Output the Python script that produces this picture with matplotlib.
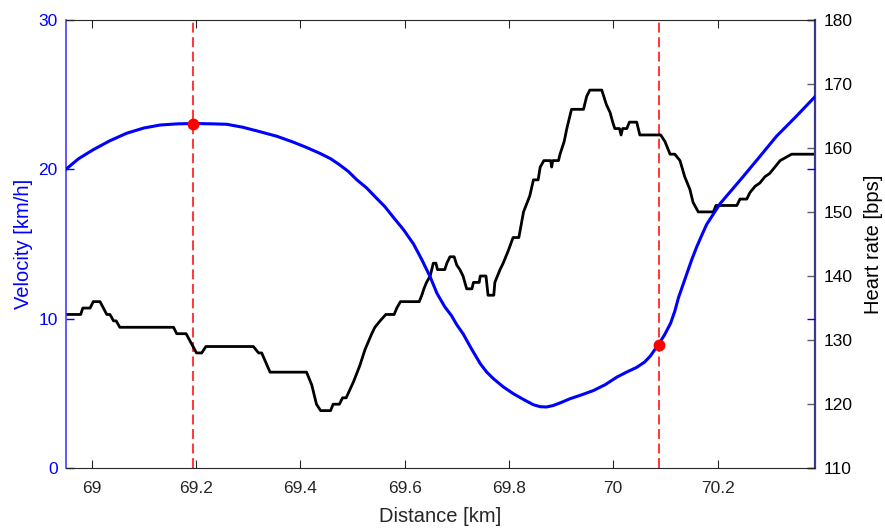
import matplotlib
matplotlib.use("Agg")
import matplotlib.pyplot as plt
import numpy as np

##------DATA------------------------------------------------------------
# velocity curve [km] / [km/h]
vel_km = [68.951, 68.975, 69.003, 69.035, 69.067, 69.100, 69.131, 69.165, 69.197, 69.230,
          69.259, 69.290, 69.323, 69.355, 69.387, 69.412, 69.438, 69.458, 69.475, 69.492,
          69.508, 69.527, 69.545, 69.562, 69.578, 69.598, 69.617, 69.633, 69.649, 69.662,
          69.677, 69.690, 69.700, 69.712, 69.728, 69.745, 69.757, 69.770, 69.789, 69.808,
          69.828, 69.847, 69.860, 69.872, 69.885, 69.900, 69.917, 69.940, 69.962, 69.985,
          70.007, 70.025, 70.045, 70.060, 70.071, 70.086, 70.098, 70.110, 70.118, 70.125,
          70.133, 70.141, 70.150, 70.160, 70.170, 70.179, 70.192, 70.205, 70.227, 70.249,
          70.280, 70.313, 70.350, 70.387]
vel_kmh = [20.0, 20.7, 21.3, 21.9, 22.4, 22.75, 22.95, 23.03, 23.05, 23.03,
           23.0, 22.8, 22.5, 22.2, 21.8, 21.45, 21.05, 20.7, 20.3, 19.85,
           19.3, 18.75, 18.1, 17.5, 16.8, 15.95, 15.0, 13.95, 12.8, 11.7,
           10.8, 10.2, 9.6, 9.0, 8.0, 7.0, 6.45, 6.0, 5.45, 5.0,
           4.6, 4.25, 4.12, 4.1, 4.2, 4.4, 4.65, 4.92, 5.2, 5.6,
           6.1, 6.42, 6.75, 7.1, 7.5, 8.25, 8.9, 9.7, 10.5, 11.4,
           12.2, 13.0, 13.9, 14.8, 15.6, 16.3, 17.0, 17.7, 18.6, 19.5,
           20.8, 22.2, 23.5, 24.85]

# heart rate [km] / [bps]
hr_km = [68.951, 68.979, 68.983, 68.997, 69.003, 69.016, 69.029, 69.035, 69.042, 69.047,
         69.054, 69.157, 69.163, 69.181, 69.201, 69.211, 69.219, 69.310, 69.320, 69.326,
         69.342, 69.412, 69.422, 69.431, 69.439, 69.458, 69.463, 69.475, 69.481, 69.488,
         69.502, 69.514, 69.524, 69.537, 69.543, 69.553, 69.564, 69.580, 69.585, 69.592,
         69.628, 69.633, 69.637, 69.642, 69.649, 69.655, 69.660, 69.663, 69.677, 69.681,
         69.687, 69.695, 69.700, 69.706, 69.712, 69.719, 69.729, 69.732, 69.743, 69.745,
         69.756, 69.760, 69.771, 69.773, 69.778, 69.783, 69.789, 69.799, 69.808, 69.819,
         69.828, 69.840, 69.847, 69.856, 69.860, 69.867, 69.880, 69.882, 69.884, 69.895,
         69.898, 69.906, 69.911, 69.920, 69.943, 69.949, 69.955, 69.978, 69.987, 69.994,
         69.999, 70.003, 70.012, 70.015, 70.018, 70.026, 70.031, 70.045, 70.051, 70.091,
         70.099, 70.109, 70.118, 70.128, 70.137, 70.147, 70.153, 70.163, 70.192, 70.197,
         70.237, 70.243, 70.256, 70.262, 70.272, 70.281, 70.291, 70.300, 70.310, 70.320,
         70.342, 70.387]
hr_bps = [134, 134, 135, 135, 136, 136, 134, 134, 133, 133,
          132, 132, 131, 131, 128, 128, 129, 129, 128, 128,
          125, 125, 123, 120, 119, 119, 120, 120, 121, 121,
          123.5, 126, 128.5, 131, 132, 133, 134, 134, 135, 136,
          136, 137, 138, 139, 140, 142, 142, 141, 141, 142,
          143, 143, 141.7, 141, 140, 138, 138, 139, 139, 140,
          140, 137, 137, 139, 140, 141, 142, 144, 146, 146,
          150, 152.5, 155, 155, 157, 158, 158, 157, 158, 158,
          159, 161, 163, 166, 166, 168, 169, 169, 166.7, 165.5,
          164, 163, 163, 162, 163, 163, 164, 164, 162, 162,
          161, 159, 159, 158, 155.5, 153.5, 151.5, 150, 150, 151,
          151, 152, 152, 153, 154, 154.5, 155.5, 156, 157, 158,
          159, 159]

# marked events
event_km = [69.195, 70.087]
event_kmh = [23.05, 8.25]

x_ticks = [69, 69.2, 69.4, 69.6, 69.8, 70, 70.2]
x_ticklabels = ['69', '69.2', '69.4', '69.6', '69.8', '70', '70.2']
v_ticks = [0, 10, 20, 30]
hr_ticks = [110, 120, 130, 140, 150, 160, 170, 180]

##------STYLE-----------------------------------------------------------
plt.rcParams['font.family'] = ['Liberation Sans', 'DejaVu Sans']
dark = '#262626'
navy = '#3a3a8c'

fig = plt.figure(figsize=(8.85, 5.29), dpi=100)
ax1 = fig.add_axes([0.0747, 0.1147, 0.8463, 0.8483])
ax2 = ax1.twinx()
ax1.set_zorder(ax2.get_zorder() + 1)
ax1.patch.set_visible(False)

##------HEART RATE (right axis)-----------------------------------------
for xe in event_km:
    l, = ax2.plot([xe, xe], [110, 180], color='red', lw=1.1, zorder=1)
    l.set_dashes([6.5, 3])
ax2.plot(hr_km, hr_bps, color='black', lw=2, zorder=2)
ax2.set_ylim(110, 180)
ax2.set_yticks(hr_ticks)
ax2.set_ylabel('Heart rate [bps]', fontsize=14.5, color='black', labelpad=8)
ax2.tick_params(axis='y', direction='in', length=6, width=1, color='#606060',
                labelcolor='black', labelsize=12.5, pad=6)
for s in ['left', 'top', 'bottom']:
    ax2.spines[s].set_visible(False)
ax2.spines['right'].set_color(navy)
ax2.spines['right'].set_linewidth(1.6)

##------VELOCITY (left axis)--------------------------------------------
ax1.plot(vel_km, vel_kmh, color='blue', lw=2.2, zorder=3)
ax1.plot(event_km, event_kmh, 'o', color='red', markersize=7.5, zorder=4)
ax1.set_xlim(68.951, 70.387)
ax1.set_ylim(0, 30)
ax1.set_xticks(x_ticks)
ax1.set_xticklabels(x_ticklabels)
ax1.set_yticks(v_ticks)
ax1.set_xlabel('Distance [km]', fontsize=14.5, color=dark, labelpad=8)
ax1.set_ylabel('Velocity [km/h]', fontsize=14.5, color='blue', labelpad=4)
ax1.tick_params(axis='x', direction='in', length=6, width=0.8, color=dark,
                labelcolor=dark, labelsize=12.5, top=True, pad=9)
ax1.tick_params(axis='y', direction='in', length=6, width=1, color='blue',
                labelcolor='blue', labelsize=12.5, right=True, pad=6)
ax1.spines['left'].set_color('#4040ff')
ax1.spines['left'].set_linewidth(1.2)
ax1.spines['top'].set_color(dark)
ax1.spines['bottom'].set_color(dark)
ax1.spines['top'].set_linewidth(0.8)
ax1.spines['bottom'].set_linewidth(0.8)
ax1.spines['right'].set_visible(False)

fig.savefig('out.png', dpi=100)
